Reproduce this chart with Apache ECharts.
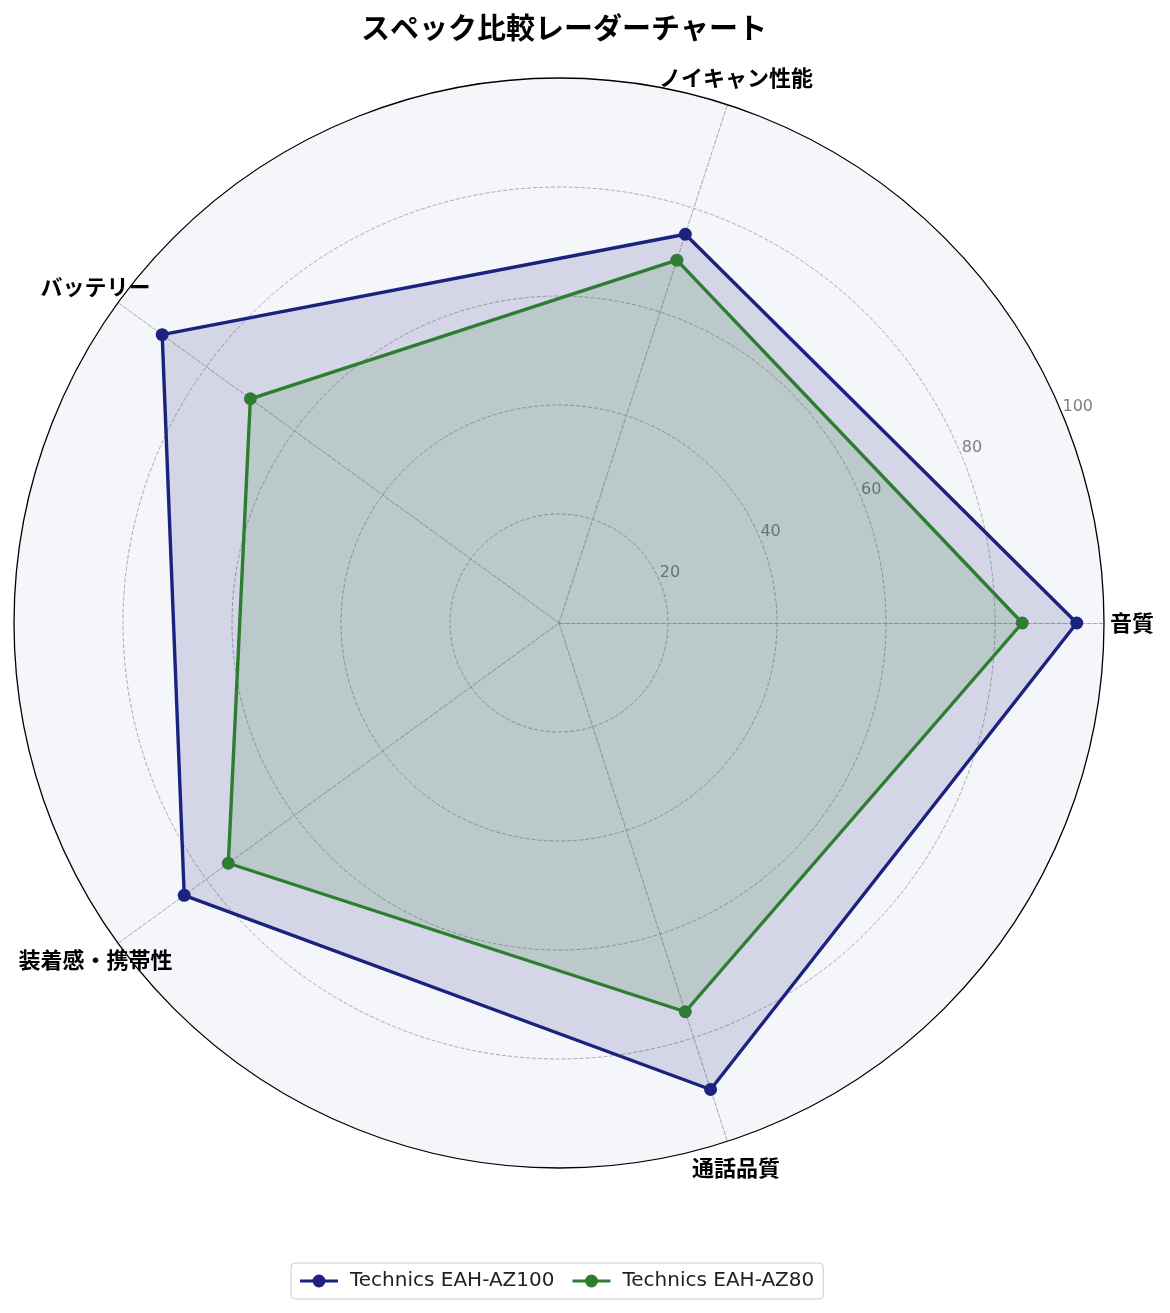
<!DOCTYPE html>
<html>
<head>
<meta charset="utf-8">
<script src="https://cdn.jsdelivr.net/npm/echarts@6/dist/echarts.min.js"></script>
<style>
  html, body { margin: 0; padding: 0; background: #fff; }
  #main { width: 1170px; height: 1313px; }
</style>
</head>
<body>
<div id="main"></div>
<script>
// 軸（反時計回り、音質が右）
var indicators = ['音質', 'ノイキャン性能', 'バッテリー', '装着感・携帯性', '通話品質'];
var az100 = [95, 75, 90, 85, 90];
var az80 = [85, 70, 70, 75, 75];
var seriesNames = ['Technics EAH-AZ100', 'Technics EAH-AZ80'];
var radialTicks = [20, 40, 60, 80, 100];

var FONT = '"Noto Sans CJK JP", "Noto Sans", sans-serif';
var LATIN = '"DejaVu Sans", "Noto Sans CJK JP", sans-serif';
var CX = 559, CY = 623, R = 545;

// 凡例アイコン：線＋丸
var legendIcon = 'path://M0,5.5H38V8.5H0Z M12.5,7A6.5,6.5 0 1,1 25.5,7A6.5,6.5 0 1,1 12.5,7Z';

var myChart = echarts.init(document.getElementById('main'));
myChart.setOption({
  backgroundColor: '#fff',
  animation: false,
  title: {
    text: 'スペック比較レーダーチャート',
    left: 356,
    top: 8,
    textStyle: { fontFamily: FONT, fontSize: 29, fontWeight: 'bold', color: '#000' }
  },
  legend: {
    data: seriesNames,
    left: 291,
    top: 1263,
    icon: legendIcon,
    itemWidth: 38,
    itemHeight: 14,
    itemGap: 18,
    padding: [8, 9],
    borderColor: '#cccccc',
    borderWidth: 1,
    borderRadius: 4,
    textStyle: { fontFamily: LATIN, fontSize: 20, color: '#222', padding: [0, 0, 0, 7] }
  },
  radar: {
    z: 0,
    center: [CX, CY],
    radius: R,
    startAngle: 0,
    shape: 'circle',
    splitNumber: 5,
    indicator: indicators.map(function (n) { return { name: n, min: 0, max: 100 }; }),
    nameGap: 28,
    axisName: {
      color: '#000',
      fontFamily: FONT,
      fontSize: 22,
      fontWeight: 'bold',
      align: 'center',
      verticalAlign: 'middle'
    },
    splitLine: { show: false },
    splitArea: { show: true, areaStyle: { color: ['#f5f6fa'] } },
    axisLine: { lineStyle: { color: '#aaaaaa', type: 'dashed', width: 1 } }
  },
  polar: { center: [CX, CY], radius: R },
  angleAxis: {
    type: 'value',
    min: 0,
    max: 360,
    startAngle: 22.5,
    z: 3,
    axisLine: { show: true, lineStyle: { color: '#000', width: 1.3 } },
    axisTick: { show: false },
    axisLabel: { show: false },
    splitLine: { show: false }
  },
  radiusAxis: {
    type: 'value',
    min: 0,
    max: 100,
    interval: 20,
    z: 1,
    data: radialTicks,
    axisLine: { show: false },
    axisTick: { show: false },
    axisLabel: {
      showMinLabel: false,
      margin: 0,
      align: 'left',
      verticalAlign: 'bottom',
      color: '#808080',
      fontFamily: LATIN,
      fontSize: 16
    },
    splitLine: {
      show: true,
      lineStyle: {
        color: ['#aaaaaa', '#aaaaaa', '#aaaaaa', '#aaaaaa', '#aaaaaa', 'rgba(0,0,0,0)'],
        type: 'dashed',
        width: 1
      }
    }
  },
  series: [
    {
      name: seriesNames[0],
      type: 'radar',
      z: 3,
      symbol: 'circle',
      symbolSize: 13,
      itemStyle: { color: '#1a237e' },
      lineStyle: { color: '#1a237e', width: 3.4 },
      areaStyle: { color: '#1a237e', opacity: 0.15 },
      data: [{ name: seriesNames[0], value: az100 }]
    },
    {
      name: seriesNames[1],
      type: 'radar',
      z: 4,
      symbol: 'circle',
      symbolSize: 13,
      itemStyle: { color: '#2e7d32' },
      lineStyle: { color: '#2e7d32', width: 3.4 },
      areaStyle: { color: '#2e7d32', opacity: 0.15 },
      data: [{ name: seriesNames[1], value: az80 }]
    }
  ]
});
</script>
</body>
</html>
